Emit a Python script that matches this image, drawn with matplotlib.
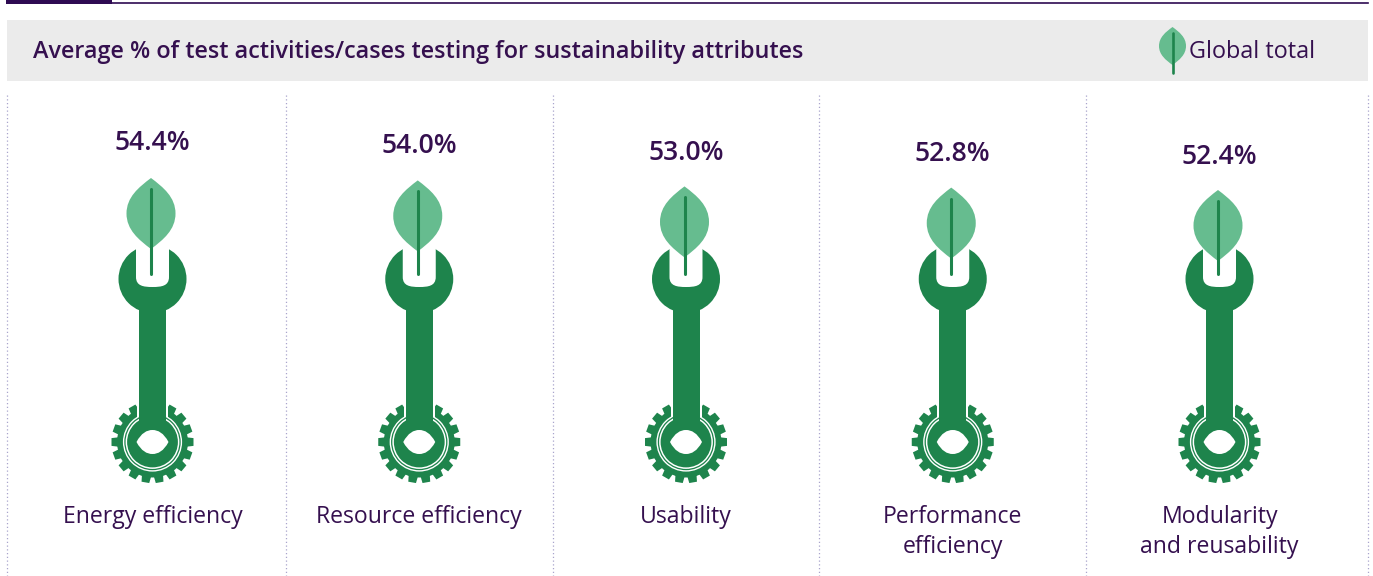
import numpy as np
import matplotlib
matplotlib.use("Agg")
import matplotlib.pyplot as plt
from matplotlib.patches import Circle, Rectangle, Polygon, PathPatch
from matplotlib.path import Path

title = "Average % of test activities/cases testing for sustainability attributes"
legend_label = "Global total"
categories = ["Energy efficiency", "Resource efficiency", "Usability",
              "Performance\nefficiency", "Modularity\nand reusability"]
values = [54.4, 54.0, 53.0, 52.8, 52.4]

TEXT = "#35104F"
DARK = "#1E844C"
LIGHT = "#66BC8F"
WHITE = "white"
plt.rcParams["font.family"] = ["Open Sans", "DejaVu Sans"]


def leaf(ax, cx, top, w, h, stem_x, stem_top, stem_bottom, lw=2.2):
    mid = top + h * 0.5
    verts = [(cx, top),
             (cx + w * 0.5, top + h * 0.13), (cx + w, top + h * 0.27), (cx + w, mid),
             (cx + w, top + h * 0.73), (cx + w * 0.5, top + h * 0.87), (cx, top + h),
             (cx - w * 0.5, top + h * 0.87), (cx - w, top + h * 0.73), (cx - w, mid),
             (cx - w, top + h * 0.27), (cx - w * 0.5, top + h * 0.13), (cx, top)]
    codes = [Path.MOVETO] + [Path.CURVE4] * 12
    ax.add_patch(PathPatch(Path(verts, codes), fc=LIGHT, ec="none", zorder=6))
    ax.plot([stem_x, stem_x], [stem_top, stem_bottom], color=DARK, lw=lw,
            solid_capstyle="round", zorder=7)


def wrench(ax, cx):
    gy = 442
    c = np.array([cx, gy])
    # gear teeth, none right under the handle
    for a in range(0, 360, 20):
        if a in (260, 280):
            continue
        t = np.radians(a)
        d = np.array([np.cos(t), np.sin(t)])
        n = np.array([-d[1], d[0]])
        pts = [c + d * 33 + n * 4.8, c + d * 41 + n * 3.9, c + d * 41 - n * 3.9, c + d * 33 - n * 4.8]
        ax.add_patch(Polygon(pts, fc=DARK, ec="none", zorder=2))
    ax.add_patch(Circle((cx, gy), 35.5, fc=DARK, ec="none", zorder=2))
    ax.add_patch(Circle((cx, gy), 29.6, fc=WHITE, ec="none", zorder=2.1))
    ax.add_patch(Circle((cx, gy), 28.2, fc=DARK, ec="none", zorder=2.2))
    ax.add_patch(Circle((cx, gy), 26.9, fc=WHITE, ec="none", zorder=2.3))
    ax.add_patch(Circle((cx, gy), 25.4, fc=DARK, ec="none", zorder=2.4))
    # handle, with white gap against the gear
    ax.add_patch(Rectangle((cx - 15.5, 395), 31, 22, fc=WHITE, ec="none", zorder=2.5))
    ax.add_patch(Rectangle((cx - 13.5, 295), 27, 135, fc=DARK, ec="none", zorder=3))
    # eye hole
    ex, ew, eh = cx, 16, 12
    verts = [(ex - ew, gy),
             (ex - ew * 0.7, gy - eh * 0.75), (ex - ew * 0.35, gy - eh), (ex, gy - eh),
             (ex + ew * 0.35, gy - eh), (ex + ew * 0.7, gy - eh * 0.75), (ex + ew, gy),
             (ex + ew * 0.7, gy + eh * 0.75), (ex + ew * 0.35, gy + eh), (ex, gy + eh),
             (ex - ew * 0.35, gy + eh), (ex - ew * 0.7, gy + eh * 0.75), (ex - ew, gy)]
    ax.add_patch(PathPatch(Path(verts, [Path.MOVETO] + [Path.CURVE4] * 12),
                           fc=WHITE, ec="none", zorder=4))
    # head with open jaw
    ax.add_patch(Circle((cx, 279), 34, fc=DARK, ec="none", zorder=3))
    jaw = Path([(cx - 16.5, 240), (cx + 16.5, 240), (cx + 16.5, 277),
                (cx + 16.5, 286), (cx + 9, 287), (cx, 287),
                (cx - 9, 287), (cx - 16.5, 286), (cx - 16.5, 277), (cx - 16.5, 240)],
               [Path.MOVETO, Path.LINETO, Path.LINETO, Path.CURVE4, Path.CURVE4, Path.CURVE4,
                Path.CURVE4, Path.CURVE4, Path.CURVE4, Path.LINETO])
    ax.add_patch(PathPatch(jaw, fc=WHITE, ec="none", zorder=4))


fig = plt.figure(figsize=(13.73, 5.76), dpi=100)
ax = fig.add_axes([0, 0, 1, 1])
ax.set_xlim(0, 1373)
ax.set_ylim(576, 0)
ax.axis("off")

# top rule and header band
ax.add_patch(Rectangle((6, 0), 106, 3.5, fc="#2E0A52", ec="none"))
ax.plot([112, 1368], [2.8, 2.8], color="#2E0A52", lw=1.2)
ax.add_patch(Rectangle((7, 20), 1361, 61, fc="#EBEBEB", ec="none"))
ax.text(33, 52, title, color=TEXT, fontsize=16.85, fontweight=600, va="center", ha="left")
leaf(ax, 1172.5, 27, 13.5, 38, 1172.7, 33, 73, lw=1.9)
ax.text(1189, 52, legend_label, color=TEXT, fontsize=16.8, va="center", ha="left")

# dotted column separators
for x in [7, 286, 553, 819, 1086, 1368]:
    ax.plot([x, x], [95, 576], color="#A9A4CC", lw=0.9, ls=(0, (1, 2)))

for i, (cat, val) in enumerate(zip(categories, values)):
    cx = 152.5 + i * 266.75
    drop = 54.4 - val
    top = 178 + drop * 6
    wrench(ax, cx)
    leaf(ax, cx - 1.5, top, 24.5, 71, cx - 1.5, top + 11, 274)
    ax.text(cx, 143 + drop * 6.8, f"{val:.1f}%", color=TEXT, fontsize=19.1,
            fontweight=600, ha="center", va="center")
    if "\n" in cat:
        ax.text(cx, 505, cat, color=TEXT, fontsize=16.6, ha="center", va="top", linespacing=1.32)
    else:
        ax.text(cx, 517, cat, color=TEXT, fontsize=16.6, ha="center", va="center")

fig.savefig("out.png", dpi=100)
